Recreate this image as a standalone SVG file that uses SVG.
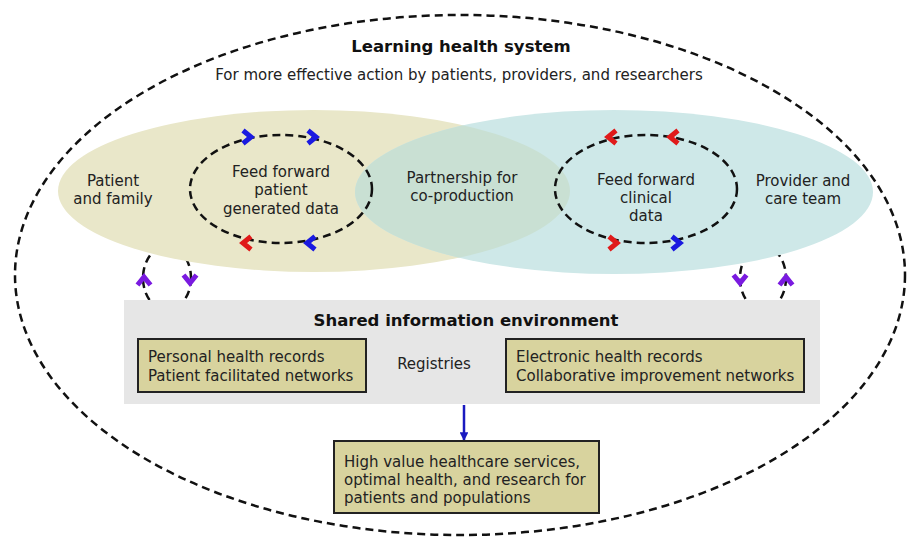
<svg xmlns="http://www.w3.org/2000/svg" width="908" height="541" viewBox="0 0 908 541">
<style>
.dash{fill:none;stroke:#111;stroke-width:2.5;stroke-dasharray:8 5}
.t{font-family:"DejaVu Sans",sans-serif;font-size:15px;fill:#222}
.b{font-family:"DejaVu Sans",sans-serif;font-size:16.5px;font-weight:bold;fill:#111}
.box{fill:#d8d39e;stroke:#222;stroke-width:2}
</style>
<defs>
<path id="chev" d="M-5,-6.5 L3,0 L-5,6.5" fill="none" stroke-width="5" stroke-linejoin="miter"/>
<clipPath id="rc"><ellipse cx="614" cy="192" rx="259" ry="82"/></clipPath>
<marker id="ah" viewBox="0 0 10 10" refX="9" refY="5" markerWidth="3.5" markerHeight="3.5" orient="auto"><path d="M0,0 L10,5 L0,10 z" fill="#1a1ac0"/></marker>
</defs>
<rect width="908" height="541" fill="#fff"/>
<g id="system">
<ellipse class="dash" cx="460" cy="275" rx="445" ry="260"/>
<text class="b" x="461" y="52" text-anchor="middle">Learning health system</text>
<text class="t" x="459" y="80" text-anchor="middle">For more effective action by patients, providers, and researchers</text>
</g>
<g id="connectors">
<ellipse class="dash" cx="167" cy="278" rx="24" ry="32"/>
<ellipse class="dash" cx="763" cy="278" rx="23" ry="32"/>
</g>
<g id="patient">
<ellipse cx="314" cy="191" rx="256" ry="81" fill="#e9e7c9"/>
<text class="t" x="113" y="186" text-anchor="middle">Patient</text>
<text class="t" x="113" y="204" text-anchor="middle">and family</text>
</g>
<g id="provider">
<ellipse cx="614" cy="192" rx="259" ry="82" fill="#cee8e8"/>
<ellipse cx="314" cy="191" rx="256" ry="81" fill="#c9e0d3" clip-path="url(#rc)"/>
<text class="t" x="803" y="186" text-anchor="middle">Provider and</text>
<text class="t" x="803" y="204" text-anchor="middle">care team</text>
</g>
<g id="partnership">
<text class="t" x="462" y="183" text-anchor="middle">Partnership for</text>
<text class="t" x="462" y="201" text-anchor="middle">co-production</text>
</g>
<g id="feed-patient">
<ellipse class="dash" cx="281" cy="189" rx="91" ry="54"/>
<text class="t" x="281" y="177" text-anchor="middle">Feed forward</text>
<text class="t" x="281" y="195" text-anchor="middle">patient</text>
<text class="t" x="281" y="214" text-anchor="middle">generated data</text>
<use href="#chev" transform="translate(248,137)" stroke="#1a1ae0"/>
<use href="#chev" transform="translate(313,137)" stroke="#1a1ae0"/>
<use href="#chev" transform="translate(310,243) rotate(180)" stroke="#1a1ae0"/>
<use href="#chev" transform="translate(246,243) rotate(180)" stroke="#e01a1a"/>
</g>
<g id="feed-clinical">
<ellipse class="dash" cx="646" cy="189" rx="91" ry="54"/>
<text class="t" x="646" y="185" text-anchor="middle">Feed forward</text>
<text class="t" x="646" y="203" text-anchor="middle">clinical</text>
<text class="t" x="646" y="221" text-anchor="middle">data</text>
<use href="#chev" transform="translate(611,137) rotate(180)" stroke="#e01a1a"/>
<use href="#chev" transform="translate(673,137) rotate(180)" stroke="#e01a1a"/>
<use href="#chev" transform="translate(614,243)" stroke="#e01a1a"/>
<use href="#chev" transform="translate(677,243)" stroke="#1a1ae0"/>
</g>
<g id="purple-arrows">
<use href="#chev" transform="translate(144,280) rotate(-90)" stroke="#7a1ae0"/>
<use href="#chev" transform="translate(190,280) rotate(90)" stroke="#7a1ae0"/>
<use href="#chev" transform="translate(740,280) rotate(90)" stroke="#7a1ae0"/>
<use href="#chev" transform="translate(786,280) rotate(-90)" stroke="#7a1ae0"/>
</g>
<g id="shared">
<rect x="124" y="300" width="696" height="104" fill="#e6e6e6"/>
<text class="b" x="466" y="326" text-anchor="middle">Shared information environment</text>
<text class="t" x="434" y="369" text-anchor="middle">Registries</text>
</g>
<g id="personal">
<rect class="box" x="138" y="339" width="228" height="53"/>
<text class="t" x="148" y="362">Personal health records</text>
<text class="t" x="148" y="381">Patient facilitated networks</text>
</g>
<g id="electronic">
<rect class="box" x="506" y="339" width="298" height="53"/>
<text class="t" x="516" y="362">Electronic health records</text>
<text class="t" x="516" y="381">Collaborative improvement networks</text>
</g>
<g id="arrow">
<line x1="464" y1="405" x2="464" y2="440" stroke="#1a1ac0" stroke-width="2.5" marker-end="url(#ah)"/>
</g>
<g id="outcome">
<rect class="box" x="334" y="441" width="265" height="72"/>
<text class="t" x="344" y="467">High value healthcare services,</text>
<text class="t" x="344" y="485">optimal health, and research for</text>
<text class="t" x="344" y="503">patients and populations</text>
</g>
</svg>
